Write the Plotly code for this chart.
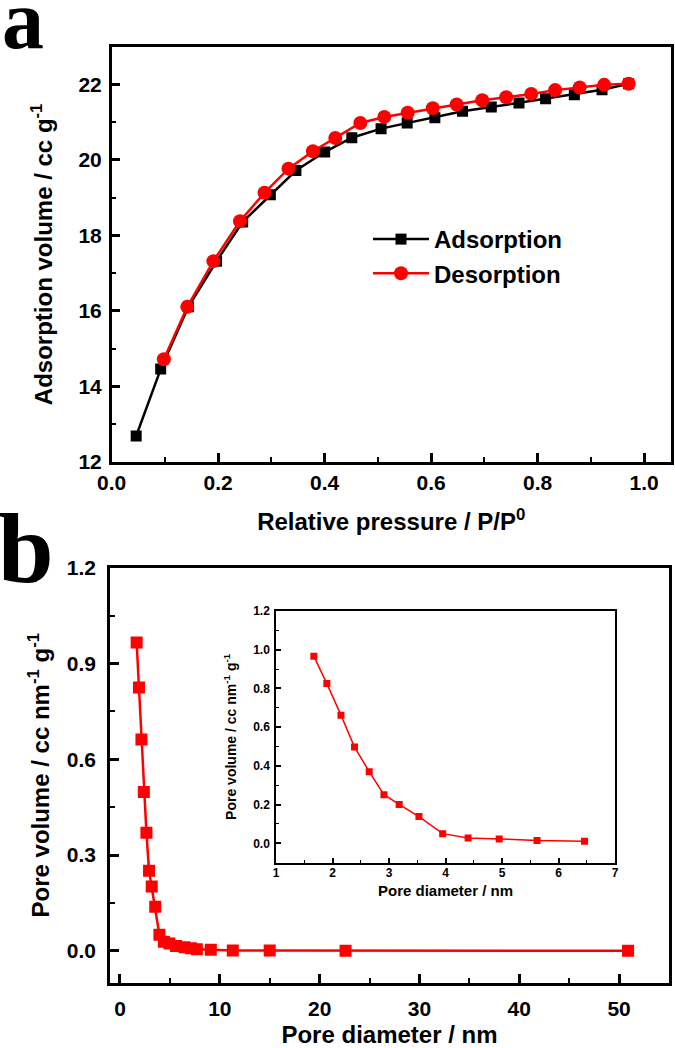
import plotly.graph_objects as go

FONT = "Liberation Sans"

# (a) N2 adsorption / desorption isotherm
ads_p = [0.046, 0.092, 0.144, 0.197, 0.246, 0.298, 0.346, 0.400, 0.451, 0.506,
         0.555, 0.607, 0.659, 0.713, 0.765, 0.815, 0.869, 0.921, 0.971]
ads_v = [12.69, 14.46, 16.11, 17.32, 18.36, 19.08, 19.72, 20.21, 20.59, 20.83,
         20.98, 21.12, 21.29, 21.40, 21.51, 21.62, 21.73, 21.86, 22.02]
des_p = [0.098, 0.142, 0.191, 0.241, 0.287, 0.332, 0.378, 0.420, 0.467, 0.512,
         0.556, 0.603, 0.648, 0.696, 0.741, 0.788, 0.833, 0.879, 0.925, 0.971]
des_v = [14.72, 16.11, 17.32, 18.38, 19.13, 19.77, 20.23, 20.58, 20.98, 21.14,
         21.25, 21.37, 21.47, 21.58, 21.66, 21.75, 21.85, 21.92, 21.99, 22.02]

# (b) pore size distribution
pore_d = [1.67, 1.90, 2.15, 2.39, 2.65, 2.91, 3.18, 3.53, 3.95, 4.40, 4.95, 5.62,
          6.46, 7.1, 7.7, 9.1, 11.3, 15.0, 22.6, 50.9]
pore_v = [0.966, 0.825, 0.662, 0.497, 0.370, 0.251, 0.201, 0.138, 0.050, 0.028,
          0.023, 0.015, 0.011, 0.008, 0.005, 0.003, 0.001, 0.0005, 0.0, 0.0]
N_INSET = 13  # inset shows only the points below 7 nm


def axis_style(size=21, lw=2.5, tlen=9, mlen=5, pad=0):
    return dict(
        showline=True, linewidth=lw, linecolor="black", mirror=True,
        ticks="inside", ticklen=tlen, tickwidth=lw, tickcolor="black",
        minor=dict(ticks="inside", ticklen=mlen, tickwidth=lw * 0.8, tickcolor="black"),
        showgrid=False, zeroline=False, automargin=False, ticklabelstandoff=pad,
        tickfont=dict(family=FONT, size=size, color="black", weight="bold"),
    )


def title_font(size):
    return dict(family=FONT, size=size, color="black", weight="bold")


fig = go.Figure()

fig.add_trace(go.Scatter(
    x=ads_p, y=ads_v, mode="lines+markers", name="Adsorption",
    line=dict(color="black", width=2.5),
    marker=dict(symbol="square", size=11, color="black"),
    xaxis="x", yaxis="y",
))
fig.add_trace(go.Scatter(
    x=des_p, y=des_v, mode="lines+markers", name="Desorption",
    line=dict(color="#ff0000", width=2.5),
    marker=dict(symbol="circle", size=14, color="#ff0000"),
    xaxis="x", yaxis="y",
))
fig.add_trace(go.Scatter(
    x=pore_d, y=pore_v, mode="lines+markers", showlegend=False,
    line=dict(color="#ff0000", width=2.5),
    marker=dict(symbol="square", size=12, color="#ff0000"),
    xaxis="x2", yaxis="y2",
))
fig.add_trace(go.Scatter(
    x=pore_d[:N_INSET], y=pore_v[:N_INSET], mode="lines+markers", showlegend=False,
    line=dict(color="#ff0000", width=1.5),
    marker=dict(symbol="square", size=7, color="#ff0000"),
    xaxis="x3", yaxis="y3",
))

W, H = 675, 1048

fig.update_layout(
    width=W, height=H,
    margin=dict(l=0, r=0, t=0, b=0, autoexpand=False),
    paper_bgcolor="white", plot_bgcolor="white",
    xaxis=dict(
        domain=[111.7 / W, 670.7 / W], anchor="y", range=[0, 1.05],
        tick0=0, dtick=0.2, tickformat=".1f",
        title=dict(text="Relative pressure / P/P<sup>0</sup>", font=title_font(24), standoff=21),
        **axis_style(pad=0),
    ),
    yaxis=dict(
        domain=[1 - 462 / H, 1 - 46.7 / H], anchor="x", range=[12, 23],
        tick0=12, dtick=2,
        title=dict(text="Adsorption volume / cc g<sup>-1</sup>", font=title_font(24), standoff=19),
        **axis_style(pad=3),
    ),
    xaxis2=dict(
        domain=[110 / W, 669 / W], anchor="y2", range=[-1, 55],
        tick0=0, dtick=10,
        title=dict(text="Pore diameter / nm", font=title_font(24), standoff=14),
        **axis_style(pad=5),
    ),
    yaxis2=dict(
        domain=[1 - 982.7 / H, 1 - 567.7 / H], anchor="x2", range=[-0.1, 1.2],
        tick0=0, dtick=0.3, tickformat=".1f",
        title=dict(text="Pore volume / cc nm<sup>-1</sup> g<sup>-1</sup>", font=title_font(24), standoff=11),
        **axis_style(pad=7),
    ),
    xaxis3=dict(
        domain=[276 / W, 615 / W], anchor="y3", range=[1, 7],
        tick0=1, dtick=1,
        title=dict(text="Pore diameter / nm", font=title_font(15), standoff=7),
        **axis_style(size=12, lw=1.5, tlen=5, mlen=3, pad=-2),
    ),
    yaxis3=dict(
        domain=[1 - 862.7 / H, 1 - 611 / H], anchor="x3", range=[-0.1, 1.2],
        tick0=0, dtick=0.2, tickformat=".1f",
        title=dict(text="Pore volume / cc nm<sup>-1</sup> g<sup>-1</sup>", font=title_font(14), standoff=13),
        **axis_style(size=12, lw=1.5, tlen=5, mlen=3, pad=2),
    ),
    legend=dict(
        x=368 / W, y=1 - 217 / H, xanchor="left", yanchor="top",
        bgcolor="rgba(0,0,0,0)", borderwidth=0, itemwidth=56,
        font=dict(family=FONT, size=24, color="black", weight="bold"),
        tracegroupgap=0,
    ),
    showlegend=True,
)

# minor tick spacing
fig.update_layout(
    xaxis_minor_dtick=0.1, yaxis_minor_dtick=1,
    xaxis2_minor_dtick=5, yaxis2_minor_dtick=0.15,
    xaxis3_minor_dtick=0.5, yaxis3_minor_dtick=0.1,
)

# panel letters
for letter, xpix, ypix, size in (("a", 23, 20, 84), ("b", 26, 548, 100)):
    fig.add_annotation(
        text=letter, xref="paper", yref="paper", x=xpix / W, y=1 - ypix / H,
        xanchor="center", yanchor="middle", showarrow=False,
        font=dict(family="Liberation Serif", size=size, color="black", weight="bold"),
    )

# the page's default 8px body margin would shift the whole figure
fig.write_html(
    "out.html",
    config={"displayModeBar": False},
    post_script="document.body.style.margin = '0';",
)
